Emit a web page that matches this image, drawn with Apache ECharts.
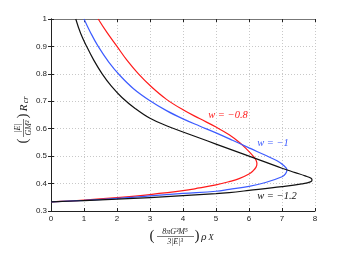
<!DOCTYPE html>
<html><head><meta charset="utf-8">
<script src="https://cdn.jsdelivr.net/npm/echarts@6/dist/echarts.min.js"></script>
<style>html,body{margin:0;padding:0;background:#fff}#c{width:345px;height:257px}</style>
</head><body><div id="c"></div>
<script>
// w = -0.8 (red)
var redX = [1.43, 1.70, 2.00, 2.30, 2.65, 3.05, 3.50, 4.00, 4.50, 5.00, 5.40, 5.73, 5.95, 6.12, 6.21, 6.24, 6.21, 6.12, 6.00, 5.70, 5.40, 5.00, 4.50, 4.00, 3.00, 2.00, 1.00, 0.00];
var redY = [1.00, 0.95, 0.90, 0.85, 0.80, 0.752, 0.707, 0.669, 0.637, 0.606, 0.578, 0.548, 0.523, 0.501, 0.486, 0.472, 0.459, 0.446, 0.435, 0.418, 0.407, 0.395, 0.384, 0.374, 0.360, 0.349, 0.340, 0.3333];
// w = -1 (blue)
var blueX = [1.00, 1.20, 1.43, 1.75, 2.09, 2.50, 3.00, 3.50, 4.00, 4.50, 5.00, 5.50, 6.00, 6.50, 6.85, 7.05, 7.15, 7.11, 7.00, 6.50, 6.00, 5.40, 5.00, 4.00, 3.00, 2.00, 1.00, 0.00];
var blueY = [1.00, 0.95, 0.90, 0.843, 0.794, 0.746, 0.702, 0.666, 0.636, 0.610, 0.585, 0.558, 0.530, 0.503, 0.483, 0.466, 0.450, 0.436, 0.425, 0.404, 0.390, 0.379, 0.372, 0.364, 0.355, 0.346, 0.339, 0.3333];
// w = -1.2 (black)
var blackX = [0.75, 0.90, 1.08, 1.30, 1.55, 1.83, 2.15, 2.55, 3.00, 3.50, 4.00, 4.50, 5.00, 5.50, 6.00, 6.50, 7.00, 7.40, 7.70, 7.87, 7.91, 7.86, 7.60, 7.00, 6.00, 5.40, 5.00, 4.00, 3.00, 2.00, 1.00, 0.00];
var blackY = [1.00, 0.947, 0.90, 0.849, 0.80, 0.755, 0.714, 0.674, 0.638, 0.611, 0.588, 0.566, 0.544, 0.522, 0.500, 0.478, 0.456, 0.440, 0.428, 0.420, 0.413, 0.406, 0.399, 0.389, 0.375, 0.367, 0.363, 0.356, 0.349, 0.343, 0.338, 0.3333];

var xTicks = [0, 8, 1];   // min, max, interval
var yTicks = [0.3, 1, 0.1];

function zip(xs, ys){ return xs.map(function(x,i){ return [x, ys[i]]; }); }

var chart = echarts.init(document.getElementById('c'), null, {renderer:'canvas'});
var labelFont = {fontFamily:'Liberation Sans, Arial, sans-serif', fontSize:8, color:'#222'};
var gridLine = {show:true, lineStyle:{color:'#c8c8c8', type:[1,2], width:1}};
var axisLine = {show:true, lineStyle:{color:'#222', width:1}};
var serif = 'Liberation Serif, DejaVu Serif, serif';

function seriesOf(name, xs, ys, color){
  return {name:name, type:'line', data:zip(xs, ys), showSymbol:false, smooth:0.4,
    lineStyle:{color:color, width:1.2}, itemStyle:{color:color}, silent:true, animation:false, z:3};
}

chart.setOption({
  animation:false,
  grid:{left:51, right:30, top:19, bottom:46, containLabel:false},
  xAxis:[
    {type:'value', min:xTicks[0], max:xTicks[1], interval:xTicks[2], position:'bottom',
     axisLine:axisLine, axisTick:{show:true, inside:true, length:3, lineStyle:{color:'#222'}},
     axisLabel:Object.assign({margin:4}, labelFont), splitLine:gridLine},
    {type:'value', min:xTicks[0], max:xTicks[1], interval:xTicks[2], position:'top',
     axisLine:{show:true, lineStyle:{color:'#777', width:1}}, axisTick:{show:true, inside:true, length:3, lineStyle:{color:'#222'}},
     axisLabel:{show:false}, splitLine:{show:false}}
  ],
  yAxis:[
    {type:'value', min:yTicks[0], max:yTicks[1], interval:yTicks[2], position:'left',
     axisLine:axisLine, axisTick:{show:true, inside:true, length:3, lineStyle:{color:'#222'}},
     axisLabel:Object.assign({margin:4}, labelFont), splitLine:gridLine},
    {type:'value', min:yTicks[0], max:yTicks[1], interval:yTicks[2], position:'right',
     axisLine:axisLine, axisTick:{show:true, inside:true, length:3, lineStyle:{color:'#222'}},
     axisLabel:{show:false}, splitLine:{show:false}}
  ],
  series:[
    seriesOf('w=-0.8', redX, redY, '#ff1a1a'),
    seriesOf('w=-1', blueX, blueY, '#3d5cff'),
    seriesOf('w=-1.2', blackX, blackY, '#111111')
  ],
  graphic:[
    {type:'text', x:228, y:115, style:{text:'w = \u22120.8', fill:'#ff1a1a', font:'italic 10.5px '+serif, align:'center', verticalAlign:'middle'}},
    {type:'text', x:273, y:143, style:{text:'w = \u22121', fill:'#3d5cff', font:'italic 10.5px '+serif, align:'center', verticalAlign:'middle'}},
    {type:'text', x:277, y:196, style:{text:'w = \u22121.2', fill:'#111', font:'italic 10.5px '+serif, align:'center', verticalAlign:'middle'}},
    // x-axis name
    {type:'group', x:0, y:0, children:[
      {type:'text', x:152, y:236, style:{text:'(', fill:'#222', font:'15px '+serif, align:'center', verticalAlign:'middle'}},
      {type:'text', x:175, y:231.5, style:{text:'8\u03c0G\u00b3M\u2075', fill:'#222', font:'italic 8px '+serif, align:'center', verticalAlign:'middle'}},
      {type:'line', shape:{x1:157, y1:236.5, x2:194, y2:236.5}, style:{stroke:'#222', lineWidth:0.6}},
      {type:'text', x:175, y:242, style:{text:'3|E|\u00b3', fill:'#222', font:'italic 8px '+serif, align:'center', verticalAlign:'middle'}},
      {type:'text', x:197, y:236, style:{text:')', fill:'#222', font:'15px '+serif, align:'center', verticalAlign:'middle'}},
      {type:'text', x:204, y:237, style:{text:'\u03c1', fill:'#222', font:'italic 11px '+serif, align:'center', verticalAlign:'middle'}},
      {type:'text', x:211, y:238, style:{text:'X', fill:'#222', font:'italic 9px '+serif, align:'center', verticalAlign:'middle'}}
    ]},
    // y-axis name (rotated)
    {type:'group', x:23, y:120, rotation:Math.PI/2, children:[
      {type:'text', x:-21, y:0, style:{text:'(', fill:'#222', font:'15px '+serif, align:'center', verticalAlign:'middle'}},
      {type:'text', x:-8, y:-5, style:{text:'|E|', fill:'#222', font:'italic 8px '+serif, align:'center', verticalAlign:'middle'}},
      {type:'line', shape:{x1:-17, y1:0.5, x2:1, y2:0.5}, style:{stroke:'#222', lineWidth:0.6}},
      {type:'text', x:-8, y:5.5, style:{text:'GM\u00b2', fill:'#222', font:'italic 8px '+serif, align:'center', verticalAlign:'middle'}},
      {type:'text', x:4, y:0, style:{text:')', fill:'#222', font:'15px '+serif, align:'center', verticalAlign:'middle'}},
      {type:'text', x:12, y:1, style:{text:'R', fill:'#222', font:'italic 11px '+serif, align:'center', verticalAlign:'middle'}},
      {type:'text', x:20, y:3, style:{text:'cr', fill:'#222', font:'italic 8px '+serif, align:'center', verticalAlign:'middle'}}
    ]}
  ]
});
</script></body></html>
